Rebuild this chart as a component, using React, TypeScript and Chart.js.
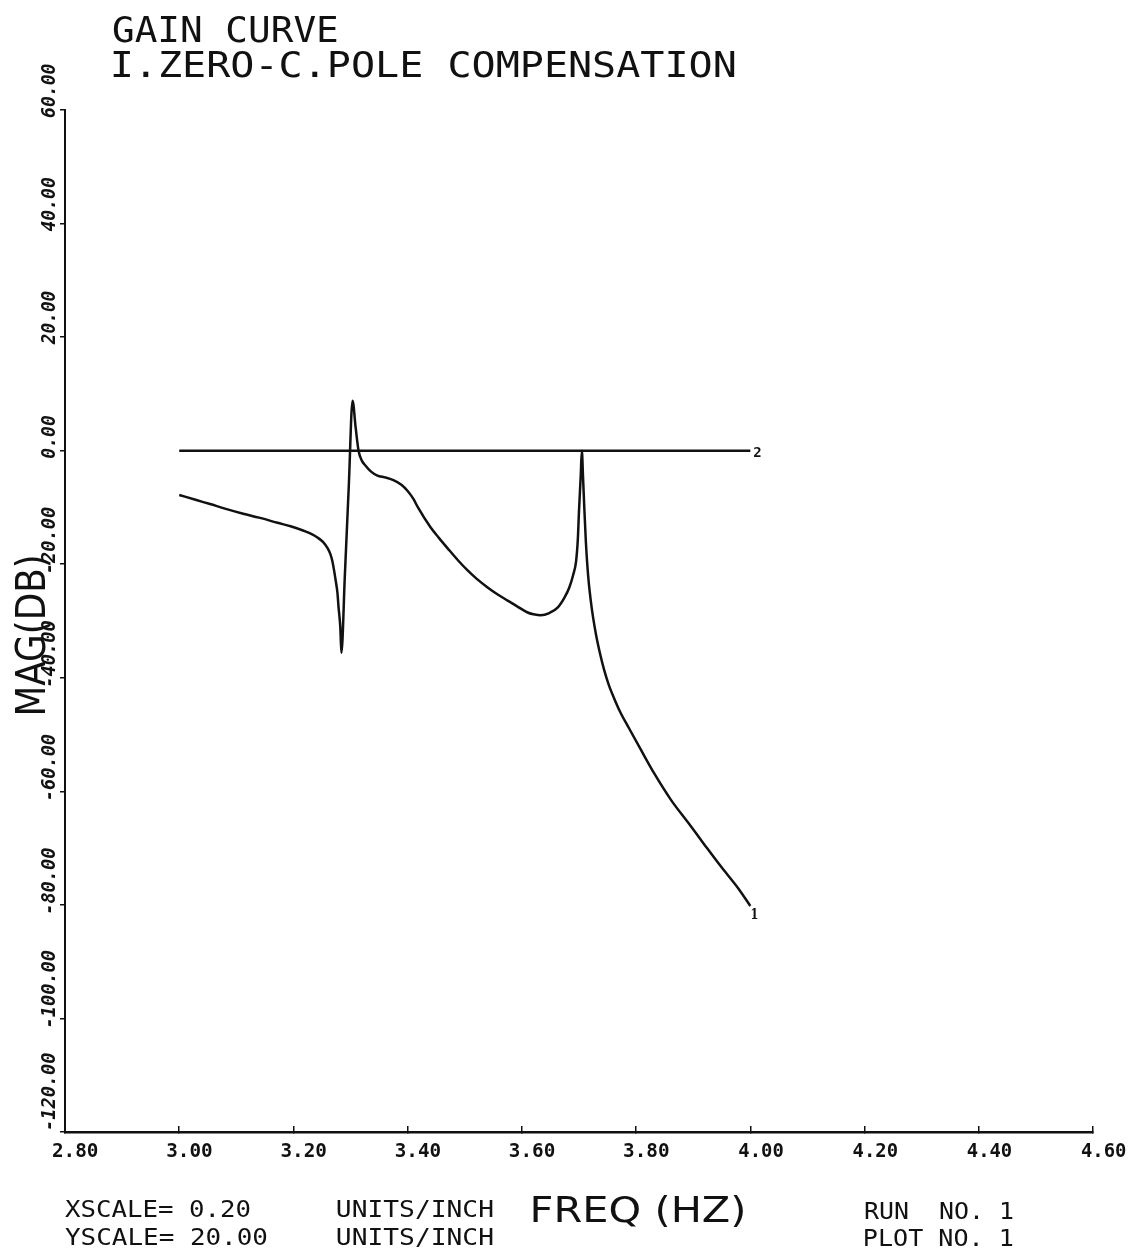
import React, { useEffect, useRef } from "react";
import { Chart, registerables } from "chart.js";

Chart.register(...registerables);

// ---- data ----
const freqCurve = [
  3.0, 3.03, 3.054, 3.08, 3.112, 3.14, 3.172, 3.195, 3.218, 3.232, 3.242,
  3.252, 3.26, 3.265, 3.268, 3.271, 3.274, 3.277, 3.279, 3.282, 3.284,
  3.29, 3.297, 3.3035, 3.309, 3.314, 3.32, 3.326, 3.336, 3.347, 3.36,
  3.375, 3.389, 3.4, 3.41, 3.418, 3.44, 3.455, 3.47, 3.488, 3.505, 3.52,
  3.54, 3.557, 3.575, 3.593, 3.61, 3.62, 3.633, 3.648, 3.663, 3.675, 3.683,
  3.69, 3.695, 3.698, 3.7, 3.703, 3.705, 3.707, 3.709, 3.712, 3.716, 3.722,
  3.73, 3.737, 3.744, 3.752, 3.761, 3.773, 3.786, 3.809, 3.832, 3.861,
  3.891, 3.919, 3.949, 3.979, 4.0,
];
const magCurve = [
  -7.8, -8.7, -9.4, -10.2, -11.1, -11.8, -12.7, -13.3, -14.1, -14.7, -15.3,
  -16.1, -17.2, -18.3, -19.4, -21.0, -22.9, -25.0, -27.6, -31.0, -35.6,
  -22.0, -6.0, 8.8, 4.0, 0.0, -1.8, -2.6, -3.7, -4.4, -4.7,
  -5.2, -6.0, -7.1, -8.5, -10.0, -13.5, -15.4, -17.2, -19.3, -21.1, -22.5,
  -24.1, -25.3, -26.4, -27.5, -28.5, -28.8, -29.0, -28.6, -27.6, -25.8, -24.1,
  -21.8, -19.4, -15.5, -10.6, -4.5, 0.0, -4.5, -9.4, -16.0, -22.0, -27.5,
  -32.5, -35.8, -38.6, -41.2, -43.5, -46.2, -48.6, -52.8, -56.9, -61.5,
  -65.5, -69.3, -73.3, -77.1, -80.2,
];
const freqRef = [3.0, 4.0];
const magRef = [0, 0];

const xTickLabels = ["2.80", "3.00", "3.20", "3.40", "3.60", "3.80", "4.00", "4.20", "4.40", "4.60"];
const yTickLabels = ["60.00", "40.00", "20.00", "0.00", "-20.00", "-40.00", "-60.00", "-80.00", "-100.00", "-120.00"];
const titleLines = ["GAIN CURVE", "I.ZERO-C.POLE COMPENSATION"];
const xAxisTitle = "FREQ (HZ)";
const yAxisTitle = "MAG(DB)";
const footerLeft = ["XSCALE= 0.20", "YSCALE= 20.00"];
const footerUnits = ["UNITS/INCH", "UNITS/INCH"];
const footerRight = ["RUN  NO. 1", "PLOT NO. 1"];
const seriesLabels = ["1", "2"];

const INK = "#111";

function drawFit(
  ctx: CanvasRenderingContext2D,
  text: string,
  x: number,
  baseline: number,
  width: number,
  font: string,
  rotate = false
) {
  ctx.save();
  ctx.font = font;
  ctx.fillStyle = INK;
  ctx.textAlign = "left";
  ctx.textBaseline = "alphabetic";
  const m = ctx.measureText(text);
  const inkW = m.actualBoundingBoxLeft + m.actualBoundingBoxRight;
  const s = width / inkW;
  if (rotate) {
    ctx.translate(baseline, x);
    ctx.rotate(-Math.PI / 2);
  } else {
    ctx.translate(x, baseline);
  }
  ctx.scale(s, 1);
  ctx.fillText(text, m.actualBoundingBoxLeft, 0);
  ctx.restore();
}

const textPlugin = {
  id: "plotterText",
  afterDraw(chart: any) {
    const ctx: CanvasRenderingContext2D = chart.ctx;
    const xs = chart.scales.x;
    const ys = chart.scales.y;

    // titles
    drawFit(ctx, titleLines[0], 113, 42, 224, "36px 'DejaVu Sans Mono'");
    drawFit(ctx, titleLines[1], 113, 77, 622, "36px 'DejaVu Sans Mono'");

    // x tick labels
    xTickLabels.forEach((lab) => {
      const px = xs.getPixelForValue(parseFloat(lab));
      drawFit(ctx, lab, px - 12, 1157, 45, "bold 19px 'DejaVu Sans Mono'");
    });

    // y tick labels (rotated, reading bottom to top)
    yTickLabels.forEach((lab) => {
      const py = ys.getPixelForValue(parseFloat(lab));
      const start = Math.min(py + 8, 1129);
      const len = 11 * lab.length - 1;
      drawFit(ctx, lab, start, 55, len, "italic bold 19px 'DejaVu Sans Mono'", true);
    });

    // axis titles
    drawFit(ctx, yAxisTitle, 713, 45, 156, "41px 'DejaVu Sans'", true);
    drawFit(ctx, xAxisTitle, 533, 1222, 210, "36px 'DejaVu Sans'");

    // footer
    drawFit(ctx, footerLeft[0], 65, 1217, 185, "23px 'DejaVu Sans Mono'");
    drawFit(ctx, footerLeft[1], 65, 1245, 202, "23px 'DejaVu Sans Mono'");
    drawFit(ctx, footerUnits[0], 337, 1217, 156, "23px 'DejaVu Sans Mono'");
    drawFit(ctx, footerUnits[1], 337, 1245, 156, "23px 'DejaVu Sans Mono'");
    drawFit(ctx, footerRight[0], 865, 1219, 148, "23px 'DejaVu Sans Mono'");
    drawFit(ctx, footerRight[1], 865, 1246, 148, "23px 'DejaVu Sans Mono'");

    // series end labels
    const p1x = xs.getPixelForValue(freqCurve[freqCurve.length - 1]);
    const p1y = ys.getPixelForValue(magCurve[magCurve.length - 1]);
    drawFit(ctx, seriesLabels[0], p1x + 1, p1y + 13, 6, "bold 15px 'DejaVu Serif'");
    const p2x = xs.getPixelForValue(freqRef[freqRef.length - 1]);
    const p2y = ys.getPixelForValue(magRef[magRef.length - 1]);
    drawFit(ctx, seriesLabels[1], p2x + 3, p2y + 6, 8, "bold 14px 'DejaVu Sans Mono'");
  },
};

export default function App() {
  const ref = useRef<HTMLCanvasElement | null>(null);

  useEffect(() => {
    if (!ref.current) return;
    const chart = new Chart(ref.current, {
      type: "line",
      data: {
        datasets: [
          {
            label: "1",
            data: freqCurve.map((f, i) => ({ x: f, y: magCurve[i] })),
            borderColor: INK,
            borderWidth: 2.5,
            pointRadius: 0,
            cubicInterpolationMode: "monotone",
            fill: false,
          },
          {
            label: "2",
            data: freqRef.map((f, i) => ({ x: f, y: magRef[i] })),
            borderColor: INK,
            borderWidth: 2.5,
            pointRadius: 0,
            tension: 0,
            fill: false,
          },
        ],
      },
      options: {
        animation: false,
        responsive: false,
        maintainAspectRatio: false,
        layout: { padding: { left: 65, top: 110, right: 39, bottom: 120 } },
        plugins: {
          legend: { display: false },
          tooltip: { enabled: false },
          title: { display: false },
        },
        scales: {
          x: {
            type: "linear",
            min: 2.8,
            max: 4.6,
            ticks: { display: false, stepSize: 0.2 },
            grid: {
              display: true,
              drawOnChartArea: false,
              drawTicks: true,
              tickLength: -6,
              color: INK,
              lineWidth: 1.5,
            },
            border: { display: true, color: INK, width: 2.5 },
            afterFit: (s: any) => {
              s.height = 0;
            },
          },
          y: {
            type: "linear",
            min: -120,
            max: 60,
            ticks: { display: false, stepSize: 20 },
            grid: {
              display: true,
              drawOnChartArea: false,
              drawTicks: true,
              tickLength: 5,
              color: INK,
              lineWidth: 1.5,
            },
            border: { display: true, color: INK, width: 2 },
            afterFit: (s: any) => {
              s.width = 0;
            },
          },
        },
      },
      plugins: [textPlugin],
    } as any);
    return () => chart.destroy();
  }, []);

  return (
    <div style={{ position: "fixed", left: 0, top: 0, width: 1132, height: 1252, background: "#fff" }}>
      <canvas ref={ref} width={1132} height={1252} style={{ display: "block" }} />
    </div>
  );
}
